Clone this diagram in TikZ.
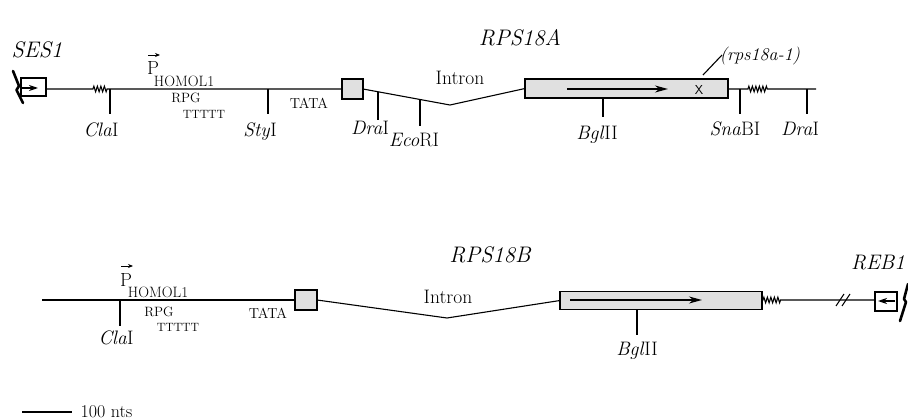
\documentclass[tikz,border=0pt]{standalone}
\usepackage{fontspec}
\usetikzlibrary{arrows.meta,decorations.pathmorphing,calc}
\begin{document}
\begin{tikzpicture}[x=1pt,y=-1pt,line width=1.1pt,
  gbox/.style={draw,line width=1.2pt,fill=black!12,inner sep=0pt,outer sep=0pt},
  wbox/.style={draw,line width=1.2pt,fill=white,inner sep=0pt,outer sep=0pt},
  enz/.style={font=\fontsize{19.5}{22}\selectfont,inner sep=0pt},
  gname/.style={font=\fontsize{22.5}{26}\selectfont\itshape,inner sep=0pt},
  small/.style={font=\fontsize{13.5}{15}\selectfont,inner sep=0pt},
  zz/.style={decorate,decoration={zigzag,segment length=3.5pt,amplitude=2.8pt}},
  tipbig/.style={-{Stealth[length=13pt,width=7pt]}},
  tipsmall/.style={-{Stealth[length=9pt,width=6pt]}},
  brk/.style={line width=2.6pt,line cap=round,line join=round}]
\useasboundingbox (0,0) rectangle (908,420);

% ---------------- RPS18A ----------------
\node[gname] (tA) at (520,38) {RPS18A};
\node[gname] (ses) at (37,50) {SES1};
\node[wbox,minimum width=25pt,minimum height=18pt] (sesbox) at (33.5,87) {};
\node[gbox,minimum width=21pt,minimum height=20pt] (boxA) at (352.5,89) {};
\node[gbox,minimum width=203pt,minimum height=19pt] (exA) at (626.5,88.5) {};
\coordinate (vA) at (450,105);
\coordinate (zA1) at (93,89);
\coordinate (zA2) at (107,89);
\coordinate (zA3) at (748,89);
\coordinate (zA4) at (768,89);
\coordinate (endA) at (816,89);

\draw (sesbox.east |- zA1) -- (zA1) decorate[zz]{-- (zA2)} -- (boxA.west);
\draw (boxA.east) -- (vA) -- (exA.west);
\draw (exA.east |- zA3) -- (zA3) decorate[zz]{-- (zA4)} -- (endA);

% arrows inside boxes
\coordinate (sesa1) at (22,88);
\coordinate (sesa2) at (38,88);
\draw[tipsmall] (sesa1) -- (sesa2);
\coordinate (exa1) at (567,89);
\coordinate (exa2) at (668,89);
\draw[tipbig,line width=1.4pt] (exa1) -- (exa2);
\node[font=\sffamily\fontsize{13}{15}\selectfont,inner sep=0pt] (xm) at (699,89.5) {X};
\node[font=\fontsize{18}{20}\selectfont\itshape,inner sep=0pt] (mut) at (760,56) {(rps18a-1)};
\coordinate (mutl1) at (703,75);
\coordinate (mutl2) at (722,55);
\draw (mutl1) -- (mutl2);

% break mark
\draw[brk] (13,71) -- (19,86) -- (16.5,90) -- (23,103);

% restriction sites
\coordinate (claA) at (110,89);
\draw (claA) -- ++(0,25);
\node[enz] (claAl) at (101,130) {\textit{Cla}I};
\coordinate (styA) at (268,89);
\draw (styA) -- ++(0,25);
\node[enz] (styAl) at (260,132) {\textit{Sty}I};
\coordinate (draA) at ($(boxA.east)!0.172!(vA)$);
\draw (draA) -- (draA |- 0,120);
\node[enz] (draAl) at (370,128) {\textit{Dra}I};
\coordinate (ecoA) at ($(boxA.east)!0.655!(vA)$);
\draw (ecoA) -- (ecoA |- 0,126);
\node[enz] (ecoAl) at (414,140) {\textit{Eco}RI};
\coordinate (bglA) at (603,98);
\draw (bglA) -- (603,117);
\node[enz] (bglAl) at (597,135) {\textit{Bgl}II};
\coordinate (snaA) at (740,89);
\draw (snaA) -- ++(0,25);
\node[enz] (snaAl) at (735,129) {\textit{Sna}BI};
\coordinate (dra2A) at (807,89);
\draw (dra2A) -- ++(0,25);
\node[enz] (dra2Al) at (800,129) {\textit{Dra}I};

% promoter labels
\node[font=\fontsize{19}{21}\selectfont,inner sep=0pt] (pA) at (153,68) {P};
\coordinate (pa1) at (148,55);
\coordinate (pa2) at (160,55);
\draw[-{Stealth[length=5pt,width=4pt]},line width=0.8pt] (pa1) -- (pa2);
\node[font=\fontsize{15}{17}\selectfont,inner sep=0pt] (hA) at (184,81.5) {HOMOL1};
\node[small] (rpgA) at (186,98) {RPG};
\node[font=\fontsize{12}{14}\selectfont,inner sep=0pt] (tA5) at (204,114) {TTTTT};
\node[font=\fontsize{14.5}{16}\selectfont,inner sep=0pt] (tataA) at (309,103) {TATA};
\node[font=\fontsize{19.5}{22}\selectfont,inner sep=0pt] (inA) at (460,78) {Intron};

% ---------------- RPS18B ----------------
\node[gname] (tB) at (490,255) {RPS18B};
\node[font=\fontsize{21}{24}\selectfont\itshape,inner sep=0pt] (reb) at (878,263) {REB1};
\node[gbox,minimum width=22pt,minimum height=20pt] (boxB) at (306,300) {};
\node[gbox,minimum width=202pt,minimum height=18pt] (exB) at (661,300.5) {};
\node[wbox,minimum width=22pt,minimum height=19pt] (rebbox) at (886,301.5) {};
\coordinate (startB) at (42,300);
\coordinate (vB) at (447,318);
\coordinate (zB1) at (763,300);
\coordinate (zB2) at (782,300);

\draw (startB) -- (boxB.west);
\draw (boxB.east) -- (vB) -- (exB.west);
\draw (exB.east |- zB1) -- (zB1) decorate[zz]{-- (zB2)} -- (rebbox.west |- zB1);
% double slash
\coordinate (sl1) at (840,300);
\coordinate (sl2) at (846,300);
\draw[line width=1pt] ($(sl1)+(-4,6)$) -- ($(sl1)+(4,-6)$);
\draw[line width=1pt] ($(sl2)+(-4,6)$) -- ($(sl2)+(4,-6)$);

\coordinate (exb1) at (570,300);
\coordinate (exb2) at (702,300);
\draw[tipbig,line width=1.4pt] (exb1) -- (exb2);
\coordinate (reba1) at (895,301);
\coordinate (reba2) at (878,301);
\draw[tipsmall] (reba1) -- (reba2);
\draw[brk] (908,284) -- (904,299) -- (906,302) -- (900,321);

\coordinate (claB) at (120,300);
\draw (claB) -- ++(0,26);
\node[enz] (claBl) at (116,338) {\textit{Cla}I};
\coordinate (bglB) at (637,309.5);
\draw (bglB) -- (637,335);
\node[enz] (bglBl) at (637,351) {\textit{Bgl}II};

\node[font=\fontsize{19}{21}\selectfont,inner sep=0pt] (pB) at (126,280) {P};
\coordinate (pb1) at (121,266);
\coordinate (pb2) at (133,266);
\draw[-{Stealth[length=5pt,width=4pt]},line width=0.8pt] (pb1) -- (pb2);
\node[font=\fontsize{15}{17}\selectfont,inner sep=0pt] (hB) at (158,292) {HOMOL1};
\node[small] (rpgB) at (159,312) {RPG};
\node[font=\fontsize{12}{14}\selectfont,inner sep=0pt] (tB5) at (178,327) {TTTTT};
\node[font=\fontsize{14.5}{16}\selectfont,inner sep=0pt] (tataB) at (268,313) {TATA};
\node[font=\fontsize{19.5}{22}\selectfont,inner sep=0pt] (inB) at (448,297) {Intron};

% scale bar
\coordinate (sc1) at (22,412);
\coordinate (sc2) at (72,412);
\draw[line width=1.6pt] (sc1) -- (sc2);
\node[font=\fontsize{18}{20}\selectfont,inner sep=0pt,anchor=west] (scl) at (80,412) {100 nts};
\end{tikzpicture}
\end{document}
